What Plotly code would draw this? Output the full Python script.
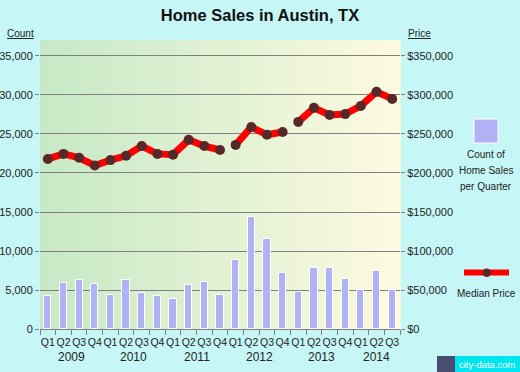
import plotly.graph_objects as go

# ---- data ----
quarters = ["Q1", "Q2", "Q3", "Q4"] * 5 + ["Q1", "Q2", "Q3"]
years = ["2009", "2010", "2011", "2012", "2013", "2014"]
sales_count = [4200, 5900, 6300, 5800, 4350, 6300, 4600, 4250,
               3850, 5650, 6050, 4350, 8850, 14350, 11600, 7150,
               4800, 7800, 7800, 6350, 4950, 7500, 4950]
median_price = [218000, 224500, 219500, 209500, 216500, 222000, 234500, 224500,
                223500, 242500, 234500, 229500, None, 236000, 259000, 249000, 252500,
                None, 265500, 283500, 274500, 275500, 286000, 304000, 295000]
# price series split into year-group segments (gaps between 2011/2012 and 2012/2013)
price_x = list(range(0, 12)) + [None] + list(range(12, 16)) + [None] + list(range(16, 23))

W, H = 520, 372
L, R, T, B = 40, 400, 40, 329

def px(x):
    return (x - L) / (R - L)

def py(y):
    return (B - y) / (B - T)

fig = go.Figure()

fig.add_trace(go.Bar(
    x=list(range(len(sales_count))), y=sales_count, width=0.46,
    marker=dict(color="#b1b1f6", line=dict(color="white", width=1)),
    showlegend=False, hoverinfo="y"))

fig.add_trace(go.Scatter(
    x=price_x, y=median_price, yaxis="y2", mode="lines+markers",
    line=dict(color="#ff0000", width=7), connectgaps=False,
    marker=dict(color="#582828", size=10),
    showlegend=False))

# background gradient
shapes = []
c0 = (198, 233, 198)
c1 = (253, 250, 224)
n = 90
for i in range(n):
    t = i / (n - 1)
    col = "rgb(%d,%d,%d)" % tuple(round(a + (b - a) * t) for a, b in zip(c0, c1))
    shapes.append(dict(type="rect", xref="paper", yref="paper",
                       x0=i / n, x1=(i + 1) / n + 0.002, y0=0, y1=1,
                       fillcolor=col, line=dict(width=0), layer="below"))

# legend: count square
shapes.append(dict(type="rect", xref="paper", yref="paper",
                   x0=px(474), x1=px(498), y0=py(143), y1=py(119),
                   fillcolor="#b1b1f6", line=dict(color="white", width=1)))
# legend: median price line
shapes.append(dict(type="line", xref="paper", yref="paper",
                   x0=px(464), x1=px(509), y0=py(272.5), y1=py(272.5),
                   line=dict(color="#ff0000", width=6)))
shapes.append(dict(type="circle", xref="paper", yref="paper",
                   x0=px(482.5), x1=px(491), y0=py(277), y1=py(268.5),
                   fillcolor="#582828", line=dict(width=0)))
# logo boxes
shapes.append(dict(type="rect", xref="paper", yref="paper",
                   x0=px(437), x1=px(455), y0=py(372), y1=py(356),
                   fillcolor="#4a4e6e", line=dict(width=0)))
shapes.append(dict(type="rect", xref="paper", yref="paper",
                   x0=px(455), x1=px(520), y0=py(372), y1=py(356),
                   fillcolor="#00e6f0", line=dict(width=0)))

font = "Liberation Sans, Arial, sans-serif"
TXT = "#222222"
annotations = []
year_pos = [1.5, 5.5, 9.5, 13.5, 17.5, 21]
for yr, xp in zip(years, year_pos):
    annotations.append(dict(text=yr, x=xp, xref="x", xanchor="center",
                            y=py(357), yref="paper",
                            showarrow=False, yanchor="middle",
                            font=dict(size=12, color=TXT, family=font)))
annotations.append(dict(text="<u>Count</u>", x=px(35.5), xanchor="right", xref="paper",
                        y=py(34), yref="paper", yanchor="middle", showarrow=False,
                        font=dict(size=10, color=TXT, family=font)))
annotations.append(dict(text="<u>Price</u>", x=px(406), xanchor="left", xref="paper",
                        y=py(34), yref="paper", yanchor="middle", showarrow=False,
                        font=dict(size=10, color=TXT, family=font)))
for line_txt, yy in [("Count of", 154), ("Home Sales", 170), ("per Quarter", 186)]:
    annotations.append(dict(text=line_txt, x=px(486), xref="paper", xanchor="center",
                            y=py(yy), yref="paper", yanchor="middle", showarrow=False,
                            font=dict(size=10, color=TXT, family=font)))
annotations.append(dict(text="Median Price", x=px(486), xref="paper", xanchor="center",
                        y=py(293), yref="paper", yanchor="middle", showarrow=False,
                        font=dict(size=10, color=TXT, family=font)))
annotations.append(dict(text="city-data.com", x=px(487.5), xref="paper", xanchor="center",
                        y=py(364), yref="paper", yanchor="middle", showarrow=False,
                        font=dict(size=9.5, color="white", family=font)))

count_ticks = [0, 5000, 10000, 15000, 20000, 25000, 30000, 35000]
price_ticks = [v * 10 for v in count_ticks]

fig.update_layout(
    width=W, height=H,
    margin=dict(l=L, r=W - R, t=T, b=H - B, pad=0),
    paper_bgcolor="#c6f6f6", plot_bgcolor="rgba(0,0,0,0)",
    font=dict(family=font, size=11, color=TXT),
    title=dict(text="<b>Home Sales in Austin, TX</b>", x=0.5, xref="container",
               xanchor="center", y=1 - 15 / H, yanchor="middle",
               font=dict(size=16.5, color="#111111", family=font)),
    bargap=0,
    xaxis=dict(range=[-0.5, 22.5], tickmode="array", automargin=False, tickangle=0,
               tickvals=list(range(len(quarters))), ticktext=quarters,
               ticks="", showgrid=False, zeroline=False, fixedrange=True,
               ticklabelstandoff=3,
               showline=True, linecolor="#808080", linewidth=1,
               tickfont=dict(size=10.5, color=TXT),
               minor=dict(tickmode="array",
                          tickvals=[i - 0.5 for i in range(len(quarters) + 1)],
                          ticks="outside", ticklen=5, tickcolor="#808080", showgrid=False)),
    yaxis=dict(range=[0, 37050], tickmode="array", tickvals=count_ticks, automargin=False,
               tickformat=",d", showgrid=True, gridcolor="#808080", gridwidth=1,
               zeroline=False, ticks="outside", ticklen=4, tickcolor="#808080",
               tickfont=dict(size=11, color=TXT), fixedrange=True),
    yaxis2=dict(range=[0, 370500], overlaying="y", side="right", tickmode="array",
                automargin=False,
                tickvals=price_ticks, tickformat="$,d", showgrid=False, zeroline=False,
                ticks="outside", ticklen=4, tickcolor="#808080",
                tickfont=dict(size=11, color=TXT), fixedrange=True),
    shapes=shapes, annotations=annotations,
)

fig.write_html("out.html", config={"displayModeBar": False},
               post_script="document.body.style.margin='0';document.body.style.overflow='hidden';")
